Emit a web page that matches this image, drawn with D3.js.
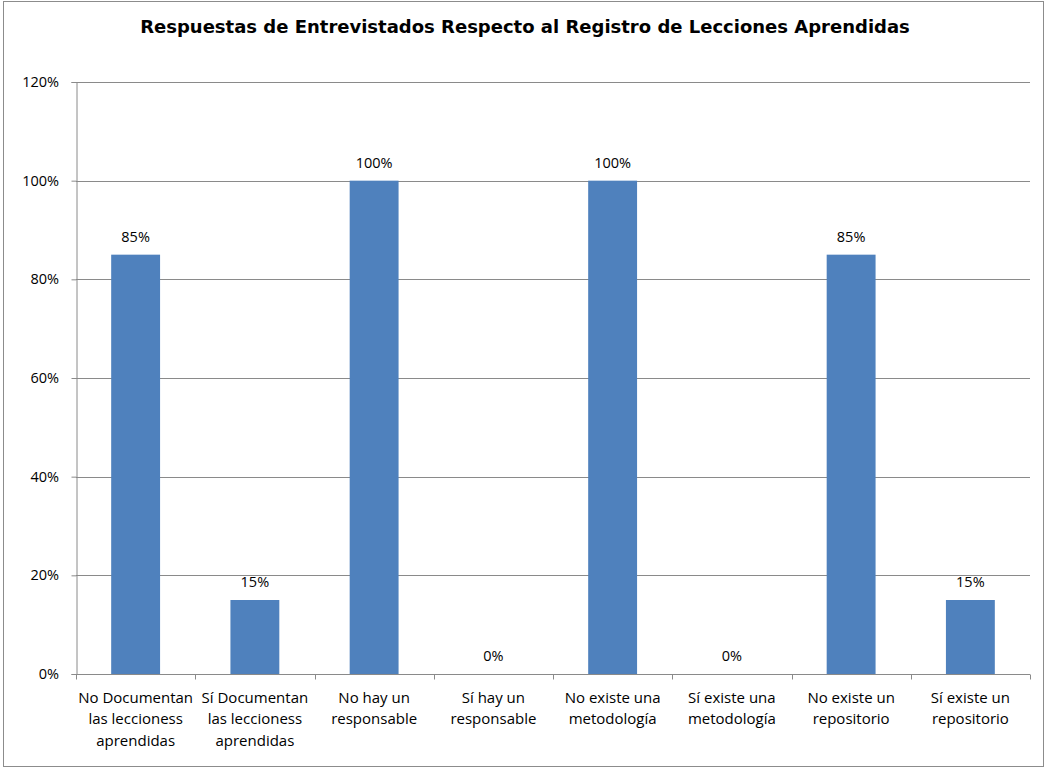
<!doctype html>
<html>
<head>
<meta charset="utf-8">
<title>Respuestas de Entrevistados</title>
<script src="https://cdn.jsdelivr.net/npm/d3@7"></script>
<style>
  body { margin: 0; background: #fff; }
  .tick text { font-family: "Open Sans", Lato, sans-serif; font-size: 14.5px; fill: #000; }
  .lbl { font-family: "Open Sans", Lato, sans-serif; font-size: 14.5px; fill: #000; }
  .cat { font-size: 15px; }
</style>
</head>
<body>
<div id="chart"></div>
<script>
const categories = [
  ["No Documentan", "las leccioness", "aprendidas"],
  ["Sí Documentan", "las leccioness", "aprendidas"],
  ["No hay un", "responsable"],
  ["Sí hay un", "responsable"],
  ["No existe una", "metodología"],
  ["Sí existe una", "metodología"],
  ["No existe un", "repositorio"],
  ["Sí existe un", "repositorio"]
];
const values = [0.85, 0.15, 1.00, 0.00, 1.00, 0.00, 0.85, 0.15];
const yTicks = [0, 0.2, 0.4, 0.6, 0.8, 1.0, 1.2];

const W = 1050, H = 768;
const plotLeft = 76, plotRight = 1030, plotTop = 82, plotBottom = 674;

const svg = d3.select("#chart").append("svg")
  .attr("width", W).attr("height", H);

svg.append("rect")
  .attr("x", 3.5).attr("y", 1.5)
  .attr("width", 1040).attr("height", 765)
  .attr("fill", "#fff").attr("stroke", "#8c8c8c").attr("stroke-width", 1);

svg.append("text")
  .attr("x", 525).attr("y", 33)
  .attr("text-anchor", "middle")
  .style("font-family", "'DejaVu Sans', Verdana, sans-serif")
  .style("font-weight", "bold")
  .style("font-size", "18px")
  .text("Respuestas de Entrevistados Respecto al Registro de Lecciones Aprendidas");

const x = d3.scaleBand()
  .domain(d3.range(categories.length))
  .range([plotLeft, plotRight])
  .paddingInner(0.59).paddingOuter(0.295);

const y = d3.scaleLinear().domain([0, 1.2]).range([plotBottom, plotTop]);

// gridlines
svg.append("g")
  .selectAll("line")
  .data(yTicks.slice(1))
  .join("line")
  .attr("x1", plotLeft).attr("x2", plotRight)
  .attr("y1", d => Math.round(y(d)) + 0.5).attr("y2", d => Math.round(y(d)) + 0.5)
  .attr("stroke", "#8a8a8a");

// y axis
const yAxis = svg.append("g")
  .attr("transform", `translate(${plotLeft + 0.5},0)`)
  .call(d3.axisLeft(y).tickValues(yTicks).tickFormat(d3.format(".0%")).tickSize(5).tickPadding(12.5));
yAxis.select(".domain").attr("stroke", "#8a8a8a");
yAxis.selectAll(".tick line").attr("stroke", "#8a8a8a");

// bars
svg.append("g")
  .selectAll("rect")
  .data(values)
  .join("rect")
  .attr("x", (d, i) => x(i))
  .attr("y", d => y(d))
  .attr("width", x.bandwidth())
  .attr("height", d => y(0) - y(d))
  .attr("fill", "#4f81bd");

// value labels
svg.append("g")
  .selectAll("text")
  .data(values)
  .join("text")
  .attr("class", "lbl")
  .attr("x", (d, i) => x(i) + x.bandwidth() / 2)
  .attr("y", d => y(d) - 13)
  .attr("text-anchor", "middle")
  .text(d => d3.format(".0%")(d));

// x axis
const step = (plotRight - plotLeft) / categories.length;
const xAxis = svg.append("g").attr("transform", `translate(0,${plotBottom + 0.5})`);
xAxis.append("line")
  .attr("x1", plotLeft).attr("x2", plotRight)
  .attr("stroke", "#8a8a8a");
xAxis.selectAll(".xt")
  .data(d3.range(categories.length + 1))
  .join("line")
  .attr("x1", i => Math.round(plotLeft + i * step) + 0.5)
  .attr("x2", i => Math.round(plotLeft + i * step) + 0.5)
  .attr("y1", 0).attr("y2", 5)
  .attr("stroke", "#8a8a8a");
xAxis.selectAll(".cat")
  .data(categories)
  .join("text")
  .attr("class", "lbl cat")
  .attr("text-anchor", "middle")
  .attr("transform", (d, i) => `translate(${x(i) + x.bandwidth() / 2},0)`)
  .selectAll("tspan")
  .data(d => d)
  .join("tspan")
  .attr("x", 0)
  .attr("y", (d, j) => 28 + j * 21.5)
  .text(d => d);
</script>
</body>
</html>
